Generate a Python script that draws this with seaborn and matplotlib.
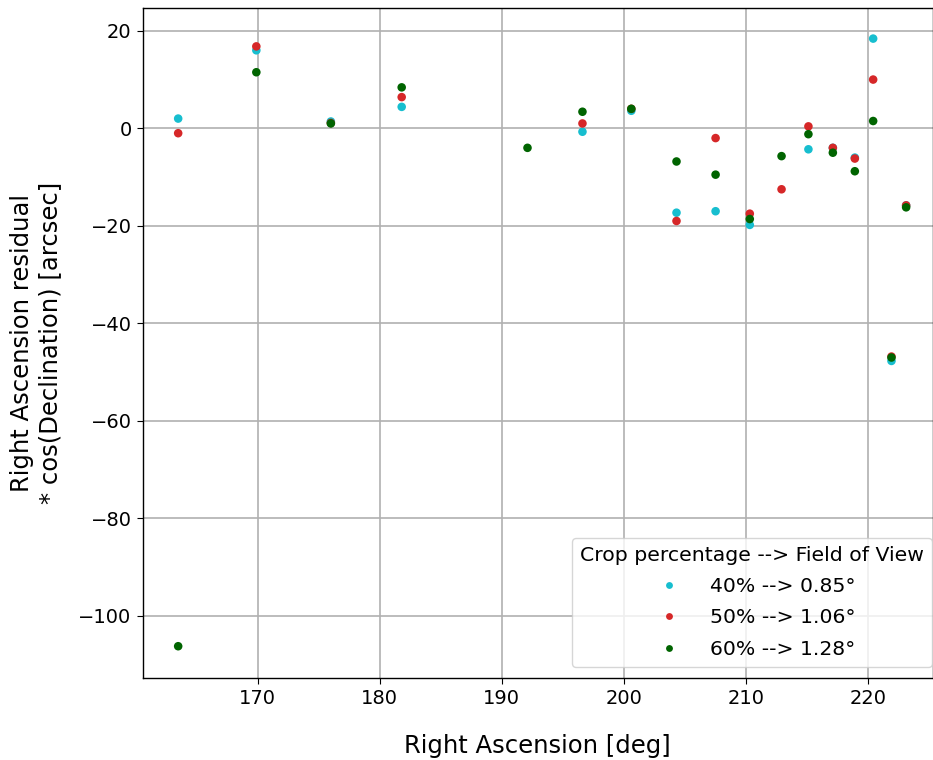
import numpy as np
import pandas as pd
import matplotlib
matplotlib.use("Agg")
import matplotlib.pyplot as plt
import seaborn as sns

ra_40 = [163.5, 169.9, 176.0, 181.8, 196.6, 200.6, 204.3, 207.5, 210.3, 215.1, 217.1, 218.9, 220.4, 221.9, 223.1]
res_40 = [2.0, 16.0, 1.4, 4.4, -0.7, 3.6, -17.3, -17.0, -19.8, -4.3, -4.0, -6.0, 18.4, -47.7, -15.8]

ra_50 = [163.5, 169.9, 176.0, 181.8, 196.6, 200.6, 204.3, 207.5, 210.3, 212.9, 215.1, 217.1, 218.9, 220.4, 221.9, 223.1]
res_50 = [-1.0, 16.8, 1.1, 6.4, 1.0, 4.0, -19.0, -2.0, -17.5, -12.5, 0.4, -4.0, -6.2, 10.0, -46.8, -15.8]

ra_60 = [163.5, 169.9, 176.0, 181.8, 192.1, 196.6, 200.6, 204.3, 207.5, 210.3, 212.9, 215.1, 217.1, 218.9, 220.4, 221.9, 223.1]
res_60 = [-106.2, 11.5, 1.0, 8.4, -4.0, 3.4, 4.0, -6.8, -9.5, -18.6, -5.7, -1.2, -5.0, -8.8, 1.5, -47.0, -16.2]

labels = ["40% --> 0.85°", "50% --> 1.06°", "60% --> 1.28°"]
colors = ["#17becf", "#d62728", "#006400"]

df = pd.concat([
    pd.DataFrame({"ra": ra_40, "res": res_40, "crop": labels[0]}),
    pd.DataFrame({"ra": ra_50, "res": res_50, "crop": labels[1]}),
    pd.DataFrame({"ra": ra_60, "res": res_60, "crop": labels[2]}),
])

sns.set_style("ticks")
plt.rcParams["font.family"] = ["DejaVu Sans"]
plt.rcParams.update({"text.color": "black", "axes.labelcolor": "black",
                     "xtick.color": "black", "ytick.color": "black",
                     "xtick.labelcolor": "black", "ytick.labelcolor": "black"})
fig, ax = plt.subplots(figsize=(9.33, 7.6), dpi=100)
sns.scatterplot(data=df, x="ra", y="res", hue="crop", palette=dict(zip(labels, colors)),
                s=38, linewidth=0, ax=ax, zorder=3)
ax.grid(True, color="#b0b0b0", linewidth=1.2)
ax.set_axisbelow(True)
ax.set_xlim(160.6, 225.3)
ax.set_ylim(-112.7, 24.6)
ax.set_xticks([170, 180, 190, 200, 210, 220])
ax.set_yticks([20, 0, -20, -40, -60, -80, -100])
ax.tick_params(labelsize=14, color="black", labelcolor="black", direction="out", length=4.5)
for s in ax.spines.values():
    s.set_color("black")
    s.set_linewidth(1.0)
ax.set_xlabel("Right Ascension [deg]", fontsize=17.5, labelpad=19)
ax.set_ylabel("Right Ascension residual\n* cos(Declination) [arcsec]", fontsize=17.5, labelpad=12)
leg = ax.legend(title="Crop percentage --> Field of View", loc="lower right", fontsize=14.7,
                title_fontsize=14.7, markerscale=0.8, handletextpad=1.0, frameon=True,
                labelspacing=0.6, borderaxespad=0.05, bbox_to_anchor=(1.0, 0.015))
fig.subplots_adjust(left=0.153, right=1.0, bottom=0.108, top=0.989)
fig.savefig("out.png", dpi=100)
